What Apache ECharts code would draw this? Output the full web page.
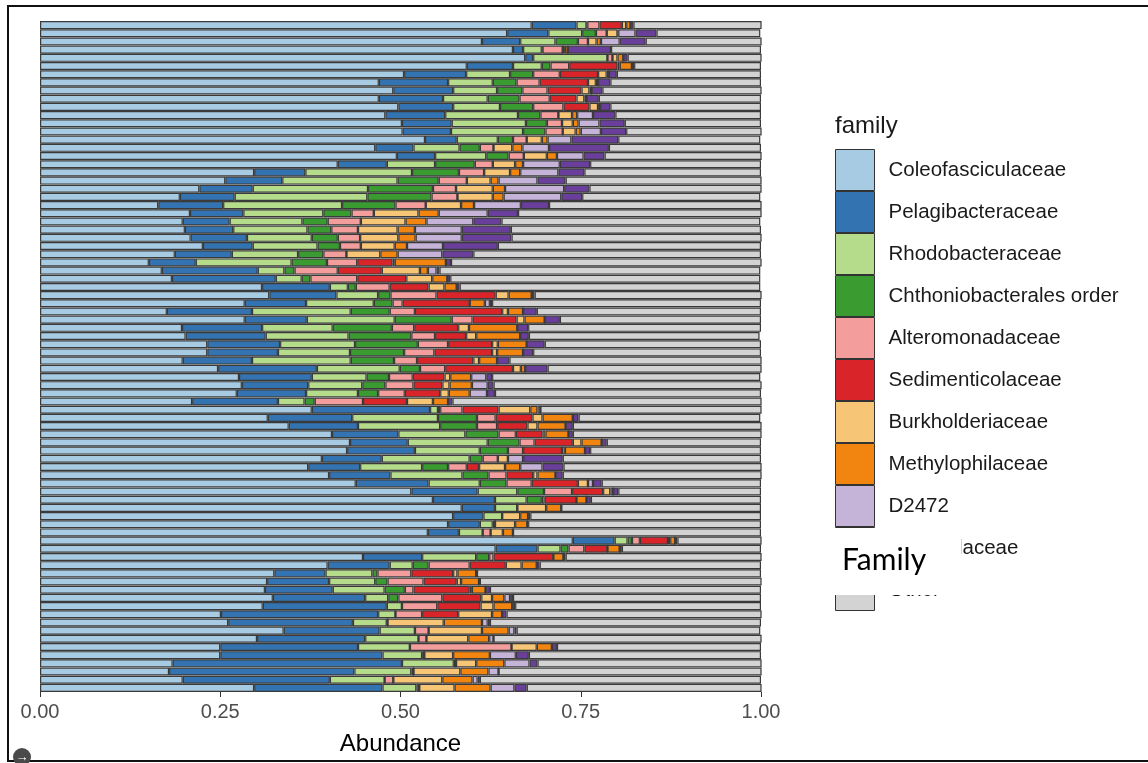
<!DOCTYPE html>
<html><head><meta charset="utf-8">
<script src="https://cdn.jsdelivr.net/npm/echarts@6/dist/echarts.min.js"></script>
<style>html,body{margin:0;padding:0;background:#fff}#c{width:1148px;height:763px}</style>
</head><body><div id="c"></div>
<script>
const samples = ['S1','S2','S3','S4','S5','S6','S7','S8','S9','S10','S11','S12','S13','S14','S15','S16','S17','S18','S19','S20','S21','S22','S23','S24','S25','S26','S27','S28','S29','S30','S31','S32','S33','S34','S35','S36','S37','S38','S39','S40','S41','S42','S43','S44','S45','S46','S47','S48','S49','S50','S51','S52','S53','S54','S55','S56','S57','S58','S59','S60','S61','S62','S63','S64','S65','S66','S67','S68','S69','S70','S71','S72','S73','S74','S75','S76','S77','S78','S79','S80','S81','S82'];
const families = ['Coleofasciculaceae','Pelagibacteraceae','Rhodobacteraceae','Chthoniobacterales order','Alteromonadaceae','Sedimenticolaceae','Burkholderiaceae','Methylophilaceae','D2472','Nitrincolaceae','Other'];
const xTicks = [0, 0.25, 0.5, 0.75, 1];

const coleo = [.682,.648,.613,.656,.673,.592,.505,.470,.490,.470, .497,.479,.502,.503,.534,.465,.495,.413,.297,.257, .221,.194,.164,.208,.198,.201,.209,.226,.187,.151, .169,.183,.308,.318,.284,.176,.284,.197,.202,.232, .232,.198,.247,.276,.280,.273,.211,.377,.316,.345, .405,.430,.426,.391,.372,.401,.438,.515,.545,.585, .573,.566,.538,.739,.632,.448,.399,.325,.315,.312, .323,.309,.251,.261,.338,.301,.250,.250,.184,.179, .198,.297];
const pelagi = [.062,.057,.053,.014,.011,.064,.086,.096,.083,.089, .076,.083,.069,.067,.044,.053,.053,.068,.071,.079, .074,.076,.090,.074,.065,.067,.078,.069,.079,.065, .133,.144,.094,.093,.085,.118,.086,.111,.111,.101, .098,.096,.137,.101,.092,.096,.119,.164,.117,.096, .092,.080,.094,.083,.072,.085,.101,.092,.086,.046, .042,.044,.043,.058,.058,.082,.086,.071,.086,.094, .128,.172,.218,.173,.133,.150,.191,.225,.318,.257, .204,.178];
const rhodo = [.014,.047,.049,.026,.103,.040,.061,.062,.061,.062, .065,.101,.103,.100,.057,.064,.071,.067,.148,.160, .160,.184,.165,.111,.101,.103,.090,.090,.092,.133, .037,.036,.025,.058,.094,.137,.122,.098,.115,.104, .100,.137,.115,.076,.075,.072,.037,.011,.119,.114, .093,.111,.090,.122,.086,.100,.071,.055,.044,.031, .026,.018,.033,.018,.032,.075,.032,.065,.064,.072, .032,.021,.024,.047,.049,.074,.072,.055,.072,.079, .076,.047];
const chthon = [.001,.019,.031,.001,0,.012,.032,.033,.035,.044, .046,.031,.029,.031,.021,.028,.031,.055,.065,.057, .090,.089,.074,.039,.035,.033,.036,.031,.035,.049, .014,.012,.011,.017,.026,.054,.079,.082,.087,.087, .075,.060,.028,.031,.032,.028,.014,.003,.054,.051, .046,.044,.039,.018,.036,.036,.037,.037,.021,0, 0,.003,0,.006,.011,.018,.022,.007,.017,.028, .014,0,0,.001,0,0,0,.003,.003,.003, 0,.004];
const altero = [.017,.015,.014,.028,.007,.026,.037,.032,.035,.042, .042,.025,.021,.024,.019,.019,.021,.025,.035,.039, .032,.036,.042,.031,.046,.037,.031,.029,.032,.042, .060,.065,.047,.064,.014,.035,.029,.031,.033,.042, .042,.032,.035,.033,.039,.037,.067,.031,.026,.028, .024,.021,.021,.021,.026,.025,.035,.039,.004,0, 0,0,.011,.011,.022,.006,.057,.047,.050,.012, .061,.049,.037,0,.019,.011,.141,0,0,0, .012,0];
const sedim = [.031,0,0,0,0,.067,.053,.067,.047,.037, .036,0,0,0,0,0,0,0,0,0, 0,0,0,0,0,0,0,0,0,.049, .061,.068,.054,.082,.093,.121,.061,.061,.043,.061, .080,.078,.094,.044,.040,.049,.061,.050,.051,.042, .037,.053,.054,0,.017,.037,.064,.043,.044,0, 0,0,0,.039,.032,.083,.050,.058,.046,.078, .054,.060,.050,0,0,0,0,0,0,0, 0,0];
const burk = [.006,.015,.012,.003,.007,.003,.012,.011,.011,.011, .012,.019,.015,.018,.021,.026,.032,.031,.036,.033, .051,.049,.049,.062,.062,.055,.053,.047,.047,.003, .053,.036,.022,.018,0,.008,.011,.015,.014,.008, .007,.008,.011,.008,.010,.012,.036,.044,.014,.014, .004,.012,.004,.014,.036,.006,.014,.010,0,.040, .025,.028,.017,.003,0,0,.022,.006,.006,.003, .015,.018,.047,.078,.074,.058,.035,.040,.028,.065, .068,.049];
const methyl = [.006,.001,.006,.004,.008,.017,.003,.003,.003,.003, .003,.007,.008,.007,.008,.014,.014,.011,.014,.011, .017,.015,.018,.028,.029,.024,.024,.017,.024,.071, .011,.021,.017,.032,.021,.021,.028,.067,.061,.040, .036,.025,.006,.029,.031,.029,.021,.010,.042,.039, .032,.028,.028,0,.021,.025,0,.004,.014,.021, .011,.017,.014,.007,.017,.014,.021,.026,.025,.019, .017,.026,.014,.053,.037,.029,.021,.051,.039,.039, .042,.050];
const d2472 = [0,.024,.026,0,0,0,0,0,0,0, 0,.022,.029,.028,.033,.037,.037,.051,.053,.054, .082,.080,.065,.068,.065,.065,.064,.050,.062,0, .012,0,0,0,.007,0,0,0,0,0, 0,0,0,.021,.022,.024,0,.004,0,0, 0,0,0,.021,.031,0,.007,0,0,0, 0,0,0,0,0,0,0,0,0,0, .008,0,0,.008,.008,.006,0,.036,.035,.014, .007,.033];
const nitrin = [.004,.029,.036,.060,.006,.003,.011,.017,.015,.017, .014,.031,.035,.035,.065,.083,.029,.042,.036,.039, .035,.029,.039,.042,.039,.068,.069,.076,.043,.007, .004,.004,.004,.004,.003,.019,.021,.015,.012,.025, .014,.017,.031,.008,.008,.011,.006,0,.008,.010, .006,.007,.007,.055,.029,.010,.012,.007,.006,0, .003,.001,0,.003,.003,.003,.004,.001,.001,.006, .004,.004,.006,.003,.003,0,.007,.018,.011,0, .003,.017];
const other = [.178,.144,.161,.208,.186,.176,.200,.209,.221,.225, .209,.202,.189,.189,.197,.211,.218,.237,.245,.272, .240,.247,.295,.338,.359,.347,.347,.365,.399,.431, .445,.430,.417,.315,.373,.311,.279,.323,.320,.300, .316,.350,.297,.372,.372,.369,.429,.307,.252,.262, .262,.214,.237,.275,.275,.276,.221,.198,.236,.277, .320,.323,.344,.117,.193,.272,.307,.394,.391,.376, .344,.341,.354,.376,.338,.372,.283,.322,.311,.365, .390,.326];

const seriesValues = [coleo, pelagi, rhodo, chthon, altero, sedim, burk, methyl, d2472, nitrin, other];
const colors = ['#a6cbe3','#3373b1','#b4dc8b','#3a9c30','#f39e9c','#d9252a','#f7c576','#f1850f','#c6b3d8','#6a3e9b','#d3d3d3'];

const chart = echarts.init(document.getElementById('c'), null, {renderer:'canvas'});
const series = families.map((name, i) => ({
  name: name,
  type: 'bar',
  stack: 'total',
  data: seriesValues[i],
  barCategoryGap: '2%',
  itemStyle: { color: colors[i], borderColor: '#3a3a3a', borderWidth: 1.2 },
  emphasis: { disabled: true },
  silent: true
}));

chart.setOption({
  animation: false,
  backgroundColor: '#ffffff',
  title: { text: 'family', left: 830, top: 109, textStyle: { fontSize: 24, fontWeight: 'normal', color: '#1a1a1a', fontFamily: 'Liberation Sans, Arial, sans-serif' } },
  legend: {
    data: families, orient: 'vertical', left: 830, top: 144,
    itemWidth: 39, itemHeight: 41, itemGap: 0, icon: 'rect', selectedMode: false,
    itemStyle: { borderColor: '#333333', borderWidth: 1 },
    textStyle: { fontSize: 20.5, color: '#1a1a1a', fontFamily: 'Liberation Sans, Arial, sans-serif', padding: [0, 0, 0, 9] }
  },
  grid: { left: 40, top: 21, width: 721, height: 671 },
  xAxis: {
    type: 'value', min: xTicks[0], max: xTicks[xTicks.length - 1], interval: 0.25,
    axisLine: { show: false },
    axisTick: { show: true, length: 5, lineStyle: { color: '#333', width: 1 } },
    splitLine: { show: false },
    axisLabel: { fontSize: 20, color: '#4d4d4d', margin: 10, fontFamily: 'Liberation Sans, Arial, sans-serif', formatter: v => v.toFixed(2) },
    name: 'Abundance', nameLocation: 'middle', nameGap: 40,
    nameTextStyle: { fontSize: 24, color: '#000', fontFamily: 'Liberation Sans, Arial, sans-serif' }
  },
  yAxis: {
    type: 'category', data: samples, inverse: true,
    axisLine: { show: false }, axisTick: { show: false }, axisLabel: { show: false }, splitLine: { show: false }
  },
  series: series,
  graphic: [
    { type: 'polyline', z: 100, shape: { points: [[1148, 6], [8, 6], [8, 761], [1148, 761]] }, style: { stroke: '#111', lineWidth: 2, fill: null } },
    { type: 'circle', z: 100, shape: { cx: 22, cy: 757, r: 9 }, style: { fill: '#4a4a4a' } },
    { type: 'text', z: 101, style: { text: '→', x: 22, y: 757, fill: '#fff', fontSize: 13, fontWeight: 'bold', textAlign: 'center', textVerticalAlign: 'middle', verticalAlign: 'middle' } },
    { type: 'rect', z: 100, shape: { x: 830, y: 528, width: 131, height: 67 }, style: { fill: '#ffffff' } },
    { type: 'text', z: 101, style: { text: 'Family', x: 842, y: 560, fill: '#000', fontSize: 30, fontFamily: 'Lato, Open Sans, sans-serif', textVerticalAlign: 'middle', verticalAlign: 'middle' } }
  ]
});
</script>
</body></html>
